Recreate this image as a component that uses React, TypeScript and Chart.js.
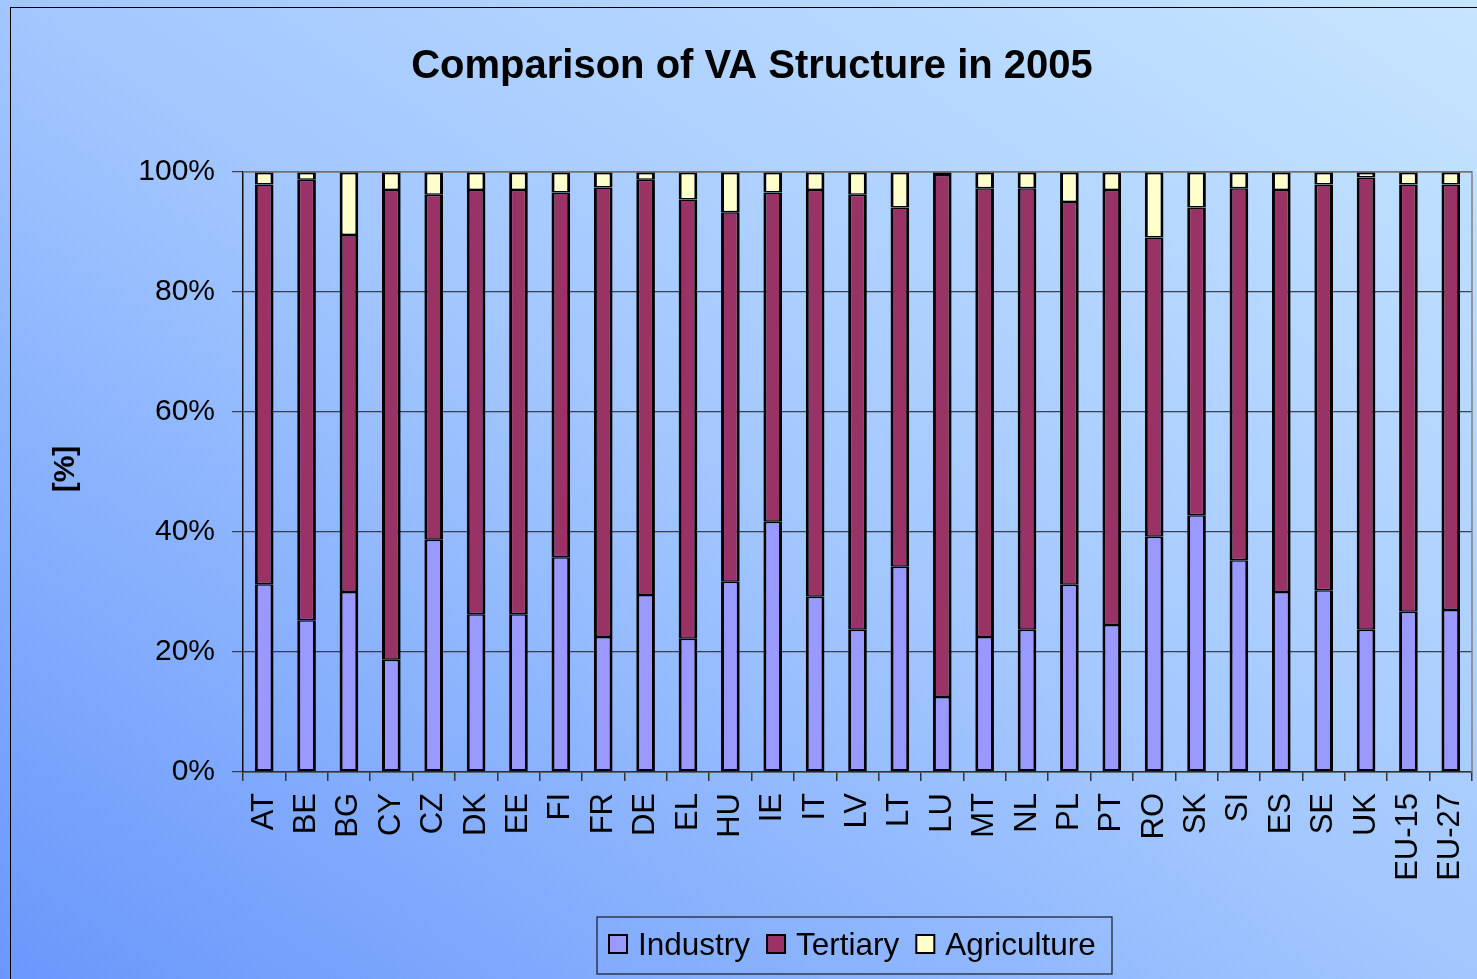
import React, { useEffect, useRef } from "react";
import { Chart, registerables } from "chart.js";

Chart.register(...registerables);

const categories = ["AT", "BE", "BG", "CY", "CZ", "DK", "EE", "FI", "FR", "DE", "EL", "HU", "IE", "IT", "LV", "LT", "LU", "MT", "NL", "PL", "PT", "RO", "SK", "SI", "ES", "SE", "UK", "EU-15", "EU-27"];
const industry = [31.3, 25.3, 30.0, 18.7, 38.7, 26.3, 26.3, 35.8, 22.5, 29.5, 22.2, 31.7, 41.7, 29.2, 23.7, 34.2, 12.5, 22.5, 23.7, 31.2, 24.5, 39.2, 42.8, 35.3, 30.0, 30.3, 23.7, 26.7, 27.0];
const agriculture = [2.1, 1.3, 10.5, 3.0, 3.8, 3.0, 3.0, 3.4, 2.6, 1.3, 4.6, 6.7, 3.4, 3.0, 3.8, 5.9, 0.5, 2.7, 2.7, 5.0, 3.0, 10.9, 5.9, 2.7, 3.0, 2.1, 0.9, 2.1, 2.1];
const tertiary = [66.6, 73.4, 59.5, 78.3, 57.5, 70.7, 70.7, 60.8, 74.9, 69.2, 73.2, 61.6, 54.9, 67.8, 72.5, 59.9, 87.0, 74.8, 73.6, 63.8, 72.5, 49.9, 51.3, 62.0, 67.0, 67.6, 75.4, 71.2, 70.9];
const seriesNames = ["Industry", "Tertiary", "Agriculture"];
const seriesColors = ["#9999FF", "#993366", "#FFFFCC"];
const yTicks = [0, 20, 40, 60, 80, 100];
const titleText = "Comparison of VA Structure in 2005";
const yAxisLabel = "[%]";

const FONT = "'Liberation Sans', Arial, sans-serif";

const decorPlugin = {
  id: "decor",
  afterDraw(chart: any) {
    const ctx = chart.ctx as CanvasRenderingContext2D;
    const area = chart.chartArea;
    ctx.save();
    // plot border (top & right)
    ctx.strokeStyle = "#808080";
    ctx.lineWidth = 1.5;
    ctx.beginPath();
    ctx.moveTo(area.left, area.top);
    ctx.lineTo(area.right, area.top);
    ctx.lineTo(area.right, area.bottom);
    ctx.stroke();

    // title
    ctx.fillStyle = "#000";
    ctx.font = `bold 40px ${FONT}`;
    ctx.textAlign = "center";
    ctx.textBaseline = "alphabetic";
    ctx.fillText(titleText, 752, 78);

    // y axis label
    ctx.save();
    ctx.translate(66, 469);
    ctx.rotate(-Math.PI / 2);
    ctx.font = `bold 30px ${FONT}`;
    ctx.textAlign = "center";
    ctx.textBaseline = "middle";
    ctx.fillText(yAxisLabel, 0, 0);
    ctx.restore();

    // legend
    ctx.font = `31.5px ${FONT}`;
    const sq = 18;
    const gapAfterSq = 11;
    const gapItem = 17;
    const widths = seriesNames.map((n) => ctx.measureText(n).width);
    const boxL = 597, boxR = 1112, boxT = 917, boxB = 974;
    ctx.strokeStyle = "#1a1a2a";
    ctx.lineWidth = 1.2;
    ctx.strokeRect(boxL, boxT, boxR - boxL, boxB - boxT);
    let x = 609;
    const cy = 944;
    ctx.textAlign = "left";
    ctx.textBaseline = "alphabetic";
    seriesNames.forEach((n, i) => {
      ctx.fillStyle = seriesColors[i];
      ctx.fillRect(x, cy - sq / 2, sq, sq);
      ctx.strokeStyle = "#000";
      ctx.lineWidth = 2;
      ctx.strokeRect(x, cy - sq / 2, sq, sq);
      x += sq + gapAfterSq;
      ctx.fillStyle = "#000";
      ctx.fillText(n, x, cy + 11);
      x += widths[i] + gapItem;
    });
    ctx.restore();
  },
};

const borderFor = [
  { top: 1.5, bottom: 2.5, left: 3, right: 3 },
  { top: 1.5, bottom: 1.5, left: 3, right: 3 },
  { top: 2.5, bottom: 1.5, left: 3, right: 3 },
];

export default function App() {
  const ref = useRef<HTMLCanvasElement>(null);
  useEffect(() => {
    if (!ref.current) return;
    const values = [industry, tertiary, agriculture];
    const chart = new Chart(ref.current, {
      type: "bar",
      data: {
        labels: categories,
        datasets: seriesNames.map((name, i) => ({
          label: name,
          data: values[i],
          backgroundColor: seriesColors[i],
          borderColor: "#000",
          borderWidth: borderFor[i],
          borderSkipped: false,
          barPercentage: 0.44,
          categoryPercentage: 1,
        })),
      },
      options: {
        responsive: false,
        animation: false,
        layout: { padding: { top: 172, right: 5, left: 0, bottom: 0 } },
        plugins: { legend: { display: false }, title: { display: false }, tooltip: { enabled: false } },
        scales: {
          x: {
            stacked: true,
            grid: { display: true, drawOnChartArea: false, offset: true, tickLength: 9, color: "#333", lineWidth: 1.5 },
            border: { color: "#333", width: 1.5 },
            ticks: {
              autoSkip: false,
              maxRotation: 90,
              minRotation: 90,
              padding: 12,
              color: "#000",
              font: { family: FONT, size: 31 },
            },
            afterFit: (s: any) => {
              s.height = 207;
              s.paddingLeft = 0;
              s.paddingRight = 0;
            },
          },
          y: {
            stacked: true,
            min: 0,
            max: 100,
            afterBuildTicks: (s: any) => {
              s.ticks = yTicks.map((v) => ({ value: v }));
            },
            ticks: {
              padding: 17,
              color: "#000",
              font: { family: FONT, size: 30 },
              callback: (v: any) => `${v}%`,
            },
            grid: { color: "rgba(40,40,50,0.85)", lineWidth: 1.2, tickLength: 11 },
            border: { color: "#111", width: 1.5 },
            afterFit: (s: any) => {
              s.width = 243;
            },
          },
        },
      },
      plugins: [decorPlugin],
    });
    return () => chart.destroy();
  }, []);
  return (
    <div
      style={{
        position: "absolute",
        left: 0,
        top: 0,
        width: 1477,
        height: 979,
        overflow: "hidden",
        background: "linear-gradient(to top right, #6a97fb 0%, #a2c7fe 50%, #c6e5ff 100%)",
      }}
    >
      <div
        style={{
          position: "absolute",
          left: 10,
          top: 7,
          width: 1500,
          height: 1000,
          borderLeft: "1.5px solid #000",
          borderTop: "1.5px solid #000",
        }}
      />
      <canvas ref={ref} width={1477} height={979} style={{ position: "absolute", left: 0, top: 0 }} />
    </div>
  );
}
